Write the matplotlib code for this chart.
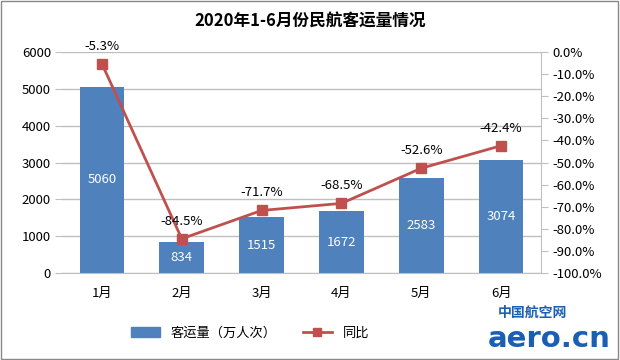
import matplotlib.pyplot as plt
from matplotlib.ticker import FuncFormatter

plt.rcParams['font.family'] = ['Noto Sans CJK SC', 'DejaVu Sans']

months = ['1月', '2月', '3月', '4月', '5月', '6月']
passengers = [5060, 834, 1515, 1672, 2583, 3074]
yoy = [-5.3, -84.5, -71.7, -68.5, -52.6, -42.4]

bar_color = '#4F81BD'
line_color = '#C0504D'
grid_color = '#BFBFBF'

fig = plt.figure(figsize=(6.2, 3.6), dpi=100)
ax = fig.add_axes([62 / 620, 87 / 360, 479 / 620, 221 / 360])
ax2 = ax.twinx()

x = range(len(months))
bars = ax.bar(x, passengers, width=0.56, color=bar_color, zorder=2)
for b, v in zip(bars, passengers):
    ax.text(b.get_x() + b.get_width() / 2, v / 2, str(v), ha='center', va='center',
            color='white', fontsize=9.5)

ax.set_ylim(0, 6000)
ax.set_yticks(range(0, 6001, 1000))
ax.set_xlim(-0.5, len(months) - 0.5)
ax.set_xticks(list(x))
ax.set_xticklabels(months)
ax.grid(axis='y', color=grid_color, linewidth=1, zorder=0)
ax.set_axisbelow(True)
ax.tick_params(axis='y', length=5, color=grid_color, labelsize=9.5, pad=3)
ax.tick_params(axis='x', length=0, labelsize=9.5, pad=10)
for s in ['top', 'right', 'left']:
    ax.spines[s].set_visible(False)
ax.spines['bottom'].set_color(grid_color)

ax2.plot(list(x), yoy, color=line_color, linewidth=2, marker='s', markersize=7,
         markerfacecolor=line_color, markeredgecolor=line_color, zorder=3)
for i, v in enumerate(yoy):
    ax2.annotate(f'{v:.1f}%', (i, v), xytext=(0, 8), textcoords='offset points',
                 ha='center', va='bottom', fontsize=9.5)
ax2.set_ylim(-100, 0)
ax2.set_yticks(range(-100, 1, 10))
ax2.yaxis.set_major_formatter(FuncFormatter(lambda v, p: f'{v:.1f}%'))
ax2.tick_params(axis='y', length=5, color=grid_color, labelsize=9.5, pad=3)
for s in ['top', 'left', 'bottom']:
    ax2.spines[s].set_visible(False)
ax2.spines['right'].set_color(grid_color)

fig.suptitle('2020年1-6月份民航客运量情况', y=0.965, fontsize=12, fontweight='bold')

handles = [plt.Rectangle((0, 0), 1, 1, color=bar_color),
           plt.Line2D([], [], color=line_color, linewidth=2, marker='s', markersize=6)]
fig.legend(handles, ['客运量（万人次）', '同比'], loc='center', bbox_to_anchor=(250 / 620, 1 - 333 / 360),
           ncol=2, frameon=False, fontsize=9.5, handlelength=2.2, columnspacing=2.0)

# logo watermark
fig.text(0.915, 1 - 313 / 360, '中国航空网', ha='right', va='center', fontsize=10,
         fontweight='bold', color='#1A5FB4')
fig.text(0.985, 1 - 339 / 360, 'aero.cn', ha='right', va='center', fontsize=21,
         fontweight='bold', color='#1A5FB4', family='DejaVu Sans')

fig.patches.append(plt.Rectangle((0.002, 0.003), 0.995, 0.994, transform=fig.transFigure,
                                 fill=False, edgecolor='#888888', linewidth=1))

fig.savefig('out.png', dpi=100)
